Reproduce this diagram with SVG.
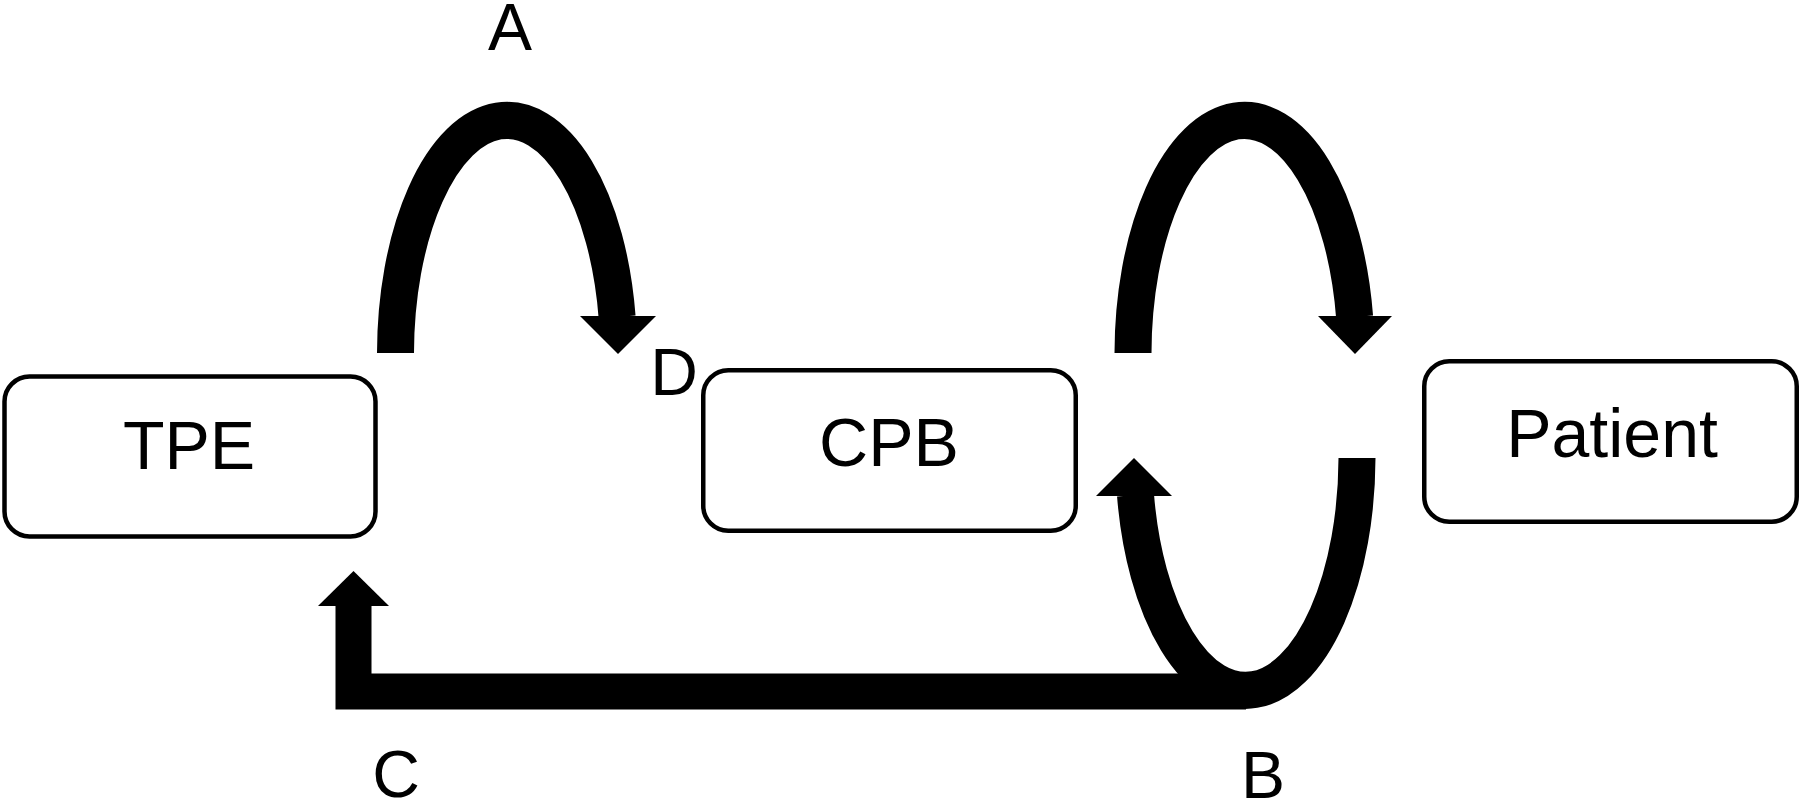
<svg xmlns="http://www.w3.org/2000/svg" width="1800" height="801" viewBox="0 0 1800 801">
<style>
.box{fill:#fff;stroke:#000;stroke-width:4.5}
.lbl{font-family:"Liberation Sans",Arial,sans-serif;font-size:68px;fill:#000;text-anchor:middle}
.let{font-family:"Liberation Sans",Arial,sans-serif;font-size:66px;fill:#000;text-anchor:middle}
.flow{fill:none;stroke:#000;stroke-width:37;stroke-linecap:butt}
.bar{fill:none;stroke:#000;stroke-width:36;stroke-linecap:butt;stroke-linejoin:miter}
.head{fill:#000;stroke:none}
</style>
<rect width="1800" height="801" fill="#fff"/>
<g id="node-tpe">
<rect class="box" x="4.5" y="376.5" width="371" height="160" rx="25"/>
<text class="lbl" x="189" y="469">TPE</text>
</g>
<g id="node-cpb">
<rect class="box" x="703.25" y="370.25" width="372.5" height="160.5" rx="25"/>
<text class="lbl" x="889" y="466">CPB</text>
</g>
<g id="node-patient">
<rect class="box" x="1424.25" y="361.25" width="372.5" height="160.5" rx="25"/>
<text class="lbl" x="1612" y="457">Patient</text>
</g>
<g id="connectors">
<path class="flow" d="M 395.5 353 A 111.5 233.5 0 0 1 617.1 317"/>
<polygon class="head" points="580,316 656,316 618,354"/>
<path class="flow" d="M 1133 353 A 111.5 233.5 0 0 1 1354.6 317"/>
<polygon class="head" points="1318,316 1392,316 1355,354"/>
<path class="bar" d="M 1246 691.5 H 353.5 V 605"/>
<polygon class="head" points="318,606 389,606 353.5,571"/>
<path class="flow" d="M 1357 458 A 111.5 233.5 0 0 1 1135.5 495"/>
<polygon class="head" points="1096,496 1172,496 1134,458"/>
</g>
<g id="labels">
<text class="let" x="510" y="50">A</text>
<text class="let" x="1263" y="798">B</text>
<text class="let" x="396" y="797">C</text>
<text class="let" x="674" y="395">D</text>
</g>
</svg>
